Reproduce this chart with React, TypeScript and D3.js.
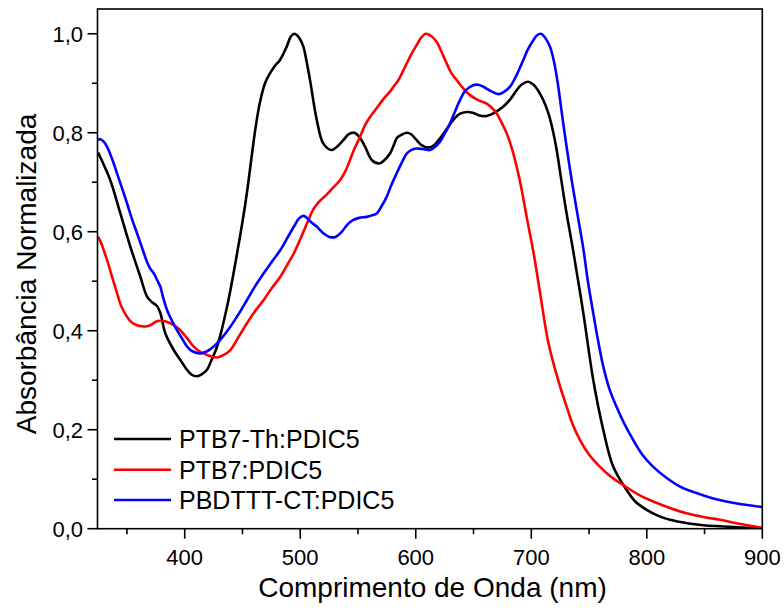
import React from "react";
import * as d3 from "d3";

const seriesNames = ["PTB7-Th:PDIC5", "PTB7:PDIC5", "PBDTTT-CT:PDIC5"];
const seriesColors = ["#000000", "#ff0000", "#0000ff"];

const black: [number, number][] = [
  [325,0.76],[330,0.735],[335.6,0.704],[344.3,0.637],[352.9,0.570],[361.6,0.509],[367.4,0.469],[372,0.457],[376,0.45],[379,0.435],[383.2,0.395],[390.5,0.361],[396.2,0.341],[402,0.321],[406,0.311],[410,0.308],[414,0.311],[419.3,0.321],[423,0.34],[428,0.368],[436.6,0.448],[445.3,0.556],[452.5,0.657],[458.3,0.758],[461,0.805],[465,0.86],[469.5,0.90],[473.8,0.92],[478,0.935],[482.5,0.947],[488.3,0.974],[492,0.995],[495,1.0],[498,0.995],[502.7,0.974],[505,0.95],[508.5,0.906],[514.3,0.826],[520,0.778],[527.2,0.765],[532,0.772],[537.3,0.785],[542,0.797],[546.8,0.80],[551,0.792],[556.1,0.772],[561.9,0.745],[568.5,0.738],[573,0.745],[577.7,0.758],[581,0.775],[583.5,0.789],[587,0.795],[592.2,0.80],[596,0.797],[600.8,0.785],[605,0.775],[610.9,0.77],[616,0.775],[621,0.789],[627,0.808],[632.5,0.826],[638,0.838],[644.1,0.842],[650,0.84],[655,0.835],[661.4,0.834],[668,0.84],[675.8,0.853],[682,0.868],[687.4,0.886],[692,0.898],[697.4,0.903],[702,0.897],[706,0.885],[710.4,0.866],[715,0.838],[719.1,0.8],[722,0.765],[725,0.72],[730,0.645],[736.4,0.56],[745.1,0.435],[753.7,0.30],[762.4,0.199],[771,0.125],[782.6,0.078],[790,0.055],[799.9,0.038],[810,0.026],[820.1,0.018],[835,0.011],[849,0.007],[877.8,0.003],[900,0.001]
];

const red: [number, number][] = [
  [325,0.59],[328,0.575],[332.7,0.543],[337,0.51],[341.4,0.476],[345,0.45],[350.1,0.428],[354,0.417],[358.7,0.411],[363,0.409],[367.4,0.409],[371,0.412],[375,0.418],[378.9,0.42],[383,0.419],[387.5,0.415],[392,0.409],[396.2,0.401],[402,0.385],[407.8,0.368],[413,0.358],[419.3,0.351],[423,0.348],[428,0.346],[433,0.35],[439.5,0.361],[446,0.385],[453.9,0.415],[461,0.44],[468.4,0.462],[475,0.485],[482.8,0.509],[488,0.53],[494.4,0.556],[500,0.585],[505.9,0.617],[511.3,0.645],[516,0.66],[522.9,0.675],[528,0.688],[534.4,0.704],[539,0.722],[543.1,0.745],[547,0.768],[551.8,0.792],[556,0.815],[560.4,0.832],[565,0.846],[569.1,0.859],[573,0.871],[577.7,0.883],[581,0.894],[584.9,0.906],[588,0.92],[592.2,0.94],[596,0.958],[600.8,0.977],[604,0.99],[608.6,1.0],[613,0.996],[618.1,0.984],[622,0.965],[626.8,0.94],[631,0.92],[635.5,0.906],[641,0.89],[647,0.876],[654,0.866],[661.4,0.859],[666,0.85],[670.1,0.839],[674,0.822],[678.7,0.799],[683,0.77],[687.4,0.731],[691.7,0.685],[696,0.63],[701.8,0.56],[706,0.5],[710.4,0.435],[714,0.385],[719.1,0.335],[725,0.287],[730.7,0.246],[736,0.21],[742.2,0.179],[750,0.15],[759.5,0.125],[769,0.105],[779.7,0.088],[792,0.07],[805.6,0.055],[820,0.042],[834.6,0.031],[848,0.024],[863.4,0.018],[880,0.01],[900,0.002]
];

const blue: [number, number][] = [
  [325,0.785],[327,0.787],[329.5,0.783],[332.7,0.772],[337,0.748],[341.4,0.718],[345,0.693],[350.1,0.657],[354,0.628],[358.7,0.597],[363,0.568],[367.4,0.539],[370,0.526],[373.2,0.516],[376,0.503],[378.9,0.489],[381,0.47],[384.7,0.442],[389,0.42],[393.3,0.401],[398,0.383],[402,0.368],[407,0.358],[413.5,0.354],[419,0.358],[425.1,0.368],[432,0.385],[439.5,0.408],[447,0.435],[453.9,0.462],[461,0.49],[468.4,0.516],[475,0.538],[482.8,0.563],[489,0.588],[494.4,0.61],[499,0.627],[503,0.632],[507,0.625],[510,0.618],[514.5,0.61],[520,0.597],[526,0.589],[531,0.59],[536,0.6],[541,0.615],[546,0.624],[551,0.628],[557.5,0.63],[562,0.633],[566.2,0.637],[570,0.65],[574.9,0.671],[579,0.695],[583.5,0.718],[588,0.74],[592.2,0.758],[596,0.765],[600.8,0.768],[606,0.767],[612.3,0.765],[616,0.77],[621,0.782],[625,0.798],[629.7,0.819],[634,0.843],[638.3,0.866],[643,0.885],[649.8,0.896],[654,0.897],[658.5,0.893],[665,0.884],[671.5,0.878],[676,0.882],[681.6,0.893],[687,0.915],[693.1,0.947],[697,0.968],[701.8,0.987],[705,0.997],[708.4,1.0],[712,0.992],[716.2,0.974],[720,0.94],[723.4,0.893],[727,0.83],[731,0.765],[735,0.704],[740,0.635],[745.1,0.565],[749,0.5],[753.7,0.435],[758,0.378],[762.4,0.327],[768,0.28],[773.9,0.246],[781,0.21],[788.3,0.179],[796,0.15],[805.6,0.125],[817,0.103],[828.8,0.085],[843,0.072],[857.6,0.061],[878,0.051],[900,0.044]
];

const xMajorTicks = [400, 500, 600, 700, 800, 900];
const xMinorTicks = [350, 450, 550, 650, 750, 850];
const yMajorTicks = [0, 0.2, 0.4, 0.6, 0.8, 1.0];
const yMinorTicks = [0.1, 0.3, 0.5, 0.7, 0.9];
const xTitle = "Comprimento de Onda (nm)";
const yTitle = "Absorbância Normalizada";

const FONT = "'Liberation Sans', Arial, Helvetica, sans-serif";

export default function App() {
  const left = 97.5, right = 762.3, top = 9, bottom = 528.7;
  const x = d3.scaleLinear().domain([324.5, 900]).range([left, right]);
  const y = d3.scaleLinear().domain([0, 1.05]).range([bottom, top]);
  const line = d3
    .line<[number, number]>()
    .x((d) => x(d[0]))
    .y((d) => y(d[1]))
    .curve(d3.curveCatmullRom.alpha(0.5));
  const data = [black, red, blue];
  const fmt = (v: number) => v.toFixed(1).replace(".", ",");
  const legendY = [439, 469.7, 500];

  return (
    <div style={{ position: "fixed", left: 0, top: 0 }}>
      <svg width={784} height={612} style={{ display: "block", background: "#fff" }}>
        <defs>
          <clipPath id="plotclip">
            <rect x={left} y={top} width={right - left} height={bottom - top} />
          </clipPath>
        </defs>
        <g clipPath="url(#plotclip)">
          {data.map((d, i) => (
            <path
              key={i}
              d={line(d) || ""}
              fill="none"
              stroke={seriesColors[i]}
              strokeWidth={2.6}
              strokeLinejoin="round"
            />
          ))}
        </g>
        <rect
          x={left}
          y={top}
          width={right - left}
          height={bottom - top}
          fill="none"
          stroke="#000"
          strokeWidth={1.6}
        />
        {xMajorTicks.map((t) => (
          <g key={"xM" + t}>
            <line x1={x(t)} x2={x(t)} y1={bottom} y2={bottom + 10} stroke="#000" strokeWidth={1.6} />
            <text x={x(t)} y={565} textAnchor="middle" fontFamily={FONT} fontSize={22} fill="#000">
              {t}
            </text>
          </g>
        ))}
        {xMinorTicks.map((t) => (
          <line key={"xm" + t} x1={x(t)} x2={x(t)} y1={bottom} y2={bottom + 5.5} stroke="#000" strokeWidth={1.6} />
        ))}
        {yMajorTicks.map((t) => (
          <g key={"yM" + t}>
            <line x1={left - 10} x2={left} y1={y(t)} y2={y(t)} stroke="#000" strokeWidth={1.6} />
            <text
              x={83}
              y={y(t)}
              dy="0.36em"
              textAnchor="end"
              fontFamily={FONT}
              fontSize={22}
              fill="#000"
            >
              {fmt(t)}
            </text>
          </g>
        ))}
        {yMinorTicks.map((t) => (
          <line key={"ym" + t} x1={left - 5.5} x2={left} y1={y(t)} y2={y(t)} stroke="#000" strokeWidth={1.6} />
        ))}
        <text x={432.5} y={597} textAnchor="middle" fontFamily={FONT} fontSize={28} fill="#000">
          {xTitle}
        </text>
        <text
          transform={`translate(36, 274) rotate(-90)`}
          textAnchor="middle"
          fontFamily={FONT}
          fontSize={28}
          fill="#000"
        >
          {yTitle}
        </text>
        {seriesNames.map((n, i) => (
          <g key={n}>
            <line x1={114} x2={171} y1={legendY[i]} y2={legendY[i]} stroke={seriesColors[i]} strokeWidth={2.6} />
            <text x={179} y={legendY[i]} dy="0.36em" fontFamily={FONT} fontSize={25} fill="#000">
              {n}
            </text>
          </g>
        ))}
      </svg>
    </div>
  );
}
